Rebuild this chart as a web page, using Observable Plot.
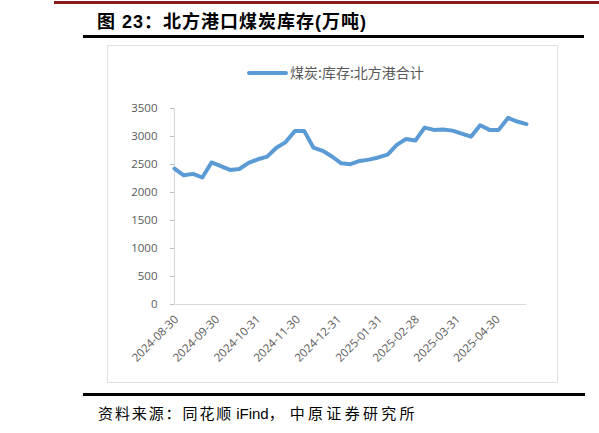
<!DOCTYPE html>
<html>
<head>
<meta charset="utf-8">
<script src="https://cdn.jsdelivr.net/npm/d3@7"></script>
<script src="https://cdn.jsdelivr.net/npm/@observablehq/plot@0.6"></script>
<style>
  html, body { margin:0; padding:0; background:#fff; width:599px; height:433px; overflow:hidden; position:relative; }
  .abs { position:absolute; }
  #redline { left:54px; top:1px; width:545px; height:3px; background:#8B1A1A; }
  #title { left:97px; top:8px; font-family:"Liberation Sans","Noto Sans CJK SC",sans-serif; font-weight:bold; font-size:18px; letter-spacing:1px; color:#000; white-space:nowrap; line-height:24px; }
  #title .cjk { font-family:"Noto Sans CJK SC",sans-serif; }
  #topline { left:83px; top:35px; width:501px; height:3px; background:#000; }
  #box { left:107px; top:45px; width:451px; height:338px; border:1.5px solid #e0e0e0; box-sizing:border-box; }
  #legend { left:247px; top:62px; height:20px; white-space:nowrap; font-family:"Noto Sans CJK SC",sans-serif; font-size:14px; color:#595959; line-height:20px; }
  #legend .swatch { display:inline-block; width:41px; height:4px; background:#5B9BD5; border-radius:2px; vertical-align:middle; margin-right:2px; position:relative; top:-1px; }
  #chart { left:100px; top:95px; }
  #botline { left:83px; top:393px; width:502px; height:3px; background:#000; }
  #source { left:98px; top:402px; font-family:"Noto Sans CJK SC",sans-serif; font-size:15px; color:#000; white-space:nowrap; line-height:22px; }
  #source .a { letter-spacing:1.9px; }
  #source .lat { font-family:"Liberation Sans",sans-serif; font-size:15px; margin-left:3px; }
  #source .spread { letter-spacing:3.3px; margin-left:6px; }
</style>
</head>
<body>
<div id="redline" class="abs"></div>
<div id="title" class="abs"><span class="cjk">图</span> 23<span class="cjk">：北方港口煤炭库存</span>(<span class="cjk">万吨</span>)</div>
<div id="topline" class="abs"></div>
<div id="box" class="abs"></div>
<div id="legend" class="abs"><span class="swatch"></span>煤炭:库存:北方港合计</div>
<div id="chart" class="abs"></div>
<div id="botline" class="abs"></div>
<div id="source" class="abs"><span class="a">资料来源：同花顺</span><span class="lat">iFind</span>，<span class="spread">中原证券研究所</span></div>
<script>
const dates = [
  "2024-08-30","2024-09-06","2024-09-13","2024-09-20","2024-09-27",
  "2024-10-04","2024-10-11","2024-10-18","2024-10-25",
  "2024-11-01","2024-11-08","2024-11-15","2024-11-22","2024-11-29",
  "2024-12-06","2024-12-13","2024-12-20","2024-12-27",
  "2025-01-03","2025-01-10","2025-01-17","2025-01-24","2025-01-31",
  "2025-02-07","2025-02-14","2025-02-21","2025-02-28",
  "2025-03-07","2025-03-14","2025-03-21","2025-03-28",
  "2025-04-04","2025-04-11","2025-04-18","2025-04-25",
  "2025-05-02","2025-05-09","2025-05-16","2025-05-23"
];
const values = [
  2427, 2307, 2333, 2268, 2536,
  2471, 2403, 2420, 2530,
  2593, 2640, 2800, 2900, 3100,
  3100, 2800, 2745, 2643,
  2521, 2506, 2563, 2587, 2626,
  2677, 2850, 2957, 2927,
  3159, 3118, 3126, 3105,
  3052, 2996, 3201, 3118,
  3118, 3332, 3267, 3222
];
const tickLabels = ["2024-08-30","2024-09-30","2024-10-31","2024-11-30","2024-12-31","2025-01-31","2025-02-28","2025-03-31","2025-04-30"];
const yTicks = [0, 500, 1000, 1500, 2000, 2500, 3000, 3500];

const data = dates.map((d, i) => ({date: new Date(d), value: values[i]}));
const fmt = d3.utcFormat("%Y-%m-%d");

const chart = Plot.plot({
  width: 446,
  height: 279,
  marginLeft: 74,
  marginRight: 20,
  marginTop: 13,
  marginBottom: 70,
  style: {fontFamily: "'Open Sans', sans-serif", fontSize: "11.5px", color: "#595959", background: "transparent", overflow: "visible"},
  x: {type: "utc", domain: [new Date(dates[0]), new Date(dates[dates.length - 1])]},
  y: {domain: [0, 3500]},
  marks: [
    Plot.ruleY([0], {stroke: "#d9d9d9", strokeWidth: 1.2}),
    Plot.ruleX([new Date(dates[0])], {stroke: "#d9d9d9", strokeWidth: 1.2}),
    Plot.axisY({ticks: yTicks, tickSize: 4, tickPadding: 13, stroke: "#bfbfbf", fill: "#595959", label: null, tickFormat: d => String(d)}),
    Plot.axisX({ticks: tickLabels.map(d => new Date(d)), tickFormat: fmt, tickRotate: -45, tickSize: 0, tickPadding: 13, fill: "#595959", label: null, dx: 2}),
    Plot.line(data, {x: "date", y: "value", stroke: "#5B9BD5", strokeWidth: 4, strokeLinejoin: "round", strokeLinecap: "round"})
  ]
});
document.getElementById("chart").appendChild(chart);
</script>
</body>
</html>
